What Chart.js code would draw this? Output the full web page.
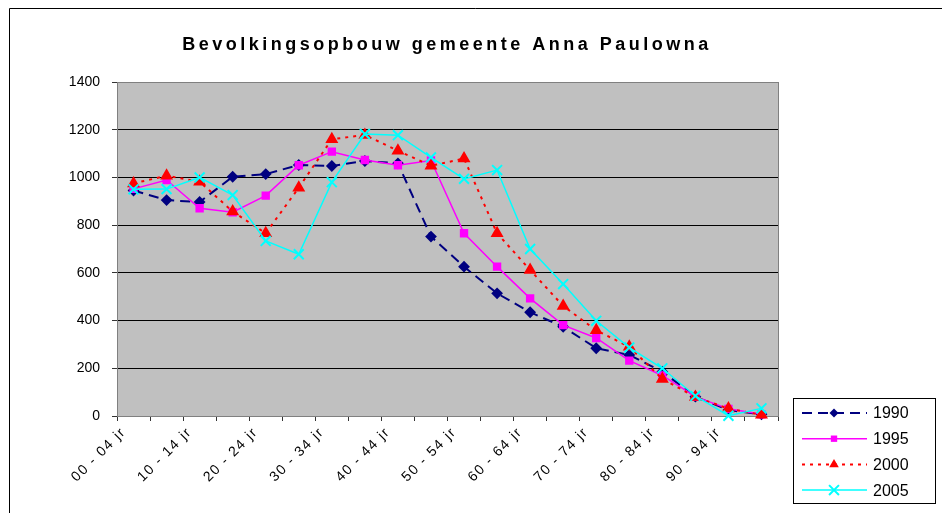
<!DOCTYPE html>
<html>
<head>
<meta charset="utf-8">
<script src="https://cdn.jsdelivr.net/npm/chart.js"></script>
<style>
    html, body { margin: 0; padding: 0; background: #fff; }
    canvas { display: block; }
</style>
</head>
<body>
<canvas id="chart" width="942" height="513"></canvas>
<script>
// ------------------------------
// Data
// ------------------------------
const ageGroups = [
    '00 - 04 jr', '05 - 09 jr', '10 - 14 jr', '15 - 19 jr', '20 - 24 jr',
    '25 - 29 jr', '30 - 34 jr', '35 - 39 jr', '40 - 44 jr', '45 - 49 jr',
    '50 - 54 jr', '55 - 59 jr', '60 - 64 jr', '65 - 69 jr', '70 - 74 jr',
    '75 - 79 jr', '80 - 84 jr', '85 - 89 jr', '90 - 94 jr', '95 - 99 jr'
];
const pop1990 = [945, 905, 897, 1003, 1014, 1052, 1048, 1069, 1059, 752, 626, 514, 435, 374, 284, 256, 186, 81, 25, 7];
const pop1995 = [952, 989, 871, 854, 924, 1051, 1108, 1073, 1051, 1071, 766, 626, 493, 381, 327, 232, 170, 81, 30, 7];
const pop2000 = [975, 1007, 982, 857, 766, 957, 1160, 1178, 1112, 1049, 1079, 766, 612, 461, 359, 290, 155, 80, 31, 5];
const pop2005 = [950, 951, 1000, 926, 734, 678, 980, 1182, 1177, 1084, 994, 1031, 700, 553, 399, 287, 200, 84, 1, 32];
const yTicks = [0, 200, 400, 600, 800, 1000, 1200, 1400];
const chartTitle = 'Bevolkingsopbouw gemeente Anna Paulowna';

const FONT = 'Arial, "Liberation Sans", sans-serif';

// ------------------------------
// Small marker painter used by the legend
// ------------------------------
function paintMarker(ctx, ds, x, y) {
    const r = ds.pointRadius;
    ctx.save();
    ctx.fillStyle = ds.pointBackgroundColor;
    ctx.strokeStyle = ds.pointBorderColor;
    ctx.lineWidth = ds.pointBorderWidth;
    ctx.setLineDash([]);
    ctx.beginPath();
    if (ds.pointStyle === 'rectRot') {
        ctx.moveTo(x, y - r); ctx.lineTo(x + r, y); ctx.lineTo(x, y + r); ctx.lineTo(x - r, y);
        ctx.closePath(); ctx.fill();
    } else if (ds.pointStyle === 'rect') {
        const s = r * Math.SQRT1_2;
        ctx.rect(x - s, y - s, 2 * s, 2 * s); ctx.fill();
    } else if (ds.pointStyle === 'triangle') {
        ctx.moveTo(x, y - r); ctx.lineTo(x + r * 0.87, y + r * 0.5); ctx.lineTo(x - r * 0.87, y + r * 0.5);
        ctx.closePath(); ctx.fill();
    } else {
        const s = r * Math.SQRT1_2;
        ctx.moveTo(x - s, y - s); ctx.lineTo(x + s, y + s);
        ctx.moveTo(x + s, y - s); ctx.lineTo(x - s, y + s);
        ctx.stroke();
    }
    ctx.restore();
}

// ------------------------------
// Plugin: outer frame, grey plot area, title, boxed legend
// ------------------------------
const excelLook = {
    id: 'excelLook',
    beforeDraw(chart) {
        const { ctx, chartArea: a } = chart;
        ctx.letterSpacing = '0px';
        ctx.save();
        ctx.fillStyle = '#c0c0c0';
        ctx.fillRect(a.left, a.top, a.right - a.left, a.bottom - a.top);
        ctx.restore();
    },
    beforeDatasetsDraw(chart) {
        const { ctx, chartArea: a } = chart;
        ctx.save();
        ctx.strokeStyle = '#808080';
        ctx.lineWidth = 1;
        ctx.strokeRect(Math.round(a.left) + 0.5, Math.round(a.top) + 0.5, a.right - a.left, a.bottom - a.top);
        ctx.restore();
    },
    afterDatasetsDraw(chart) {
        // the x labels are drawn right after this (z: 1), a bit wider spaced
        chart.ctx.letterSpacing = '1.5px';
    },
    afterDraw(chart) {
        const ctx = chart.ctx;
        ctx.letterSpacing = '0px';
        ctx.save();

        // outer chart frame
        ctx.strokeStyle = '#000';
        ctx.lineWidth = 1;
        ctx.beginPath();
        ctx.moveTo(9.5, 513);
        ctx.lineTo(9.5, 8.5);
        ctx.lineTo(942, 8.5);
        ctx.stroke();

        // title
        ctx.fillStyle = '#000';
        ctx.font = 'bold 18px ' + FONT;
        ctx.letterSpacing = '3.5px';
        ctx.textAlign = 'center';
        ctx.textBaseline = 'middle';
        ctx.fillText(chartTitle, 447, 45);
        ctx.letterSpacing = '0px';

        // legend
        ctx.fillStyle = '#fff';
        ctx.fillRect(793.5, 398.5, 142, 105);
        ctx.strokeStyle = '#000';
        ctx.strokeRect(793.5, 398.5, 142, 105);
        chart.data.datasets.forEach((ds, i) => {
            const y = 413 + i * 25.7;
            ctx.save();
            ctx.strokeStyle = ds.borderColor;
            ctx.lineWidth = ds.borderWidth;
            ctx.setLineDash(ds.borderDash || []);
            ctx.beginPath();
            ctx.moveTo(802, y);
            ctx.lineTo(867, y);
            ctx.stroke();
            ctx.restore();
            paintMarker(ctx, ds, 834, y);
            ctx.fillStyle = '#000';
            ctx.font = '16px ' + FONT;
            ctx.textAlign = 'left';
            ctx.textBaseline = 'middle';
            ctx.fillText(ds.label, 873, y + 1);
        });
        ctx.restore();
    }
};

// ------------------------------
// Build the chart
// ------------------------------
const series = [
    { label: '1990', data: pop1990, color: '#000080', dash: [10, 6], style: 'rectRot', radius: 4.5, width: 2, order: 3 },
    { label: '1995', data: pop1995, color: '#ff00ff', dash: [], style: 'rect', radius: 4.5, width: 1.5, order: 2 },
    { label: '2000', data: pop2000, color: '#ff0000', dash: [3, 5], style: 'triangle', radius: 5.5, width: 2, order: 1 },
    { label: '2005', data: pop2005, color: '#00ffff', dash: [], style: 'crossRot', radius: 7, width: 1.5, order: 0 }
];

new Chart(document.getElementById('chart').getContext('2d'), {
    type: 'line',
    data: {
        labels: ageGroups,
        datasets: series.map(s => ({
            label: s.label,
            data: s.data,
            borderColor: s.color,
            backgroundColor: s.color,
            borderWidth: s.width,
            borderDash: s.dash,
            pointStyle: s.style,
            pointRadius: s.radius,
            pointBackgroundColor: s.color,
            pointBorderColor: s.color,
            pointBorderWidth: 2,
            fill: false,
            tension: 0,
            clip: false,
            order: s.order
        }))
    },
    options: {
        responsive: false,
        animation: false,
        events: [],
        layout: { padding: { top: 82, left: 0, right: 164, bottom: 0 } },
        plugins: {
            legend: { display: false },
            title: { display: false },
            tooltip: { enabled: false }
        },
        scales: {
            x: {
                offset: true,
                grid: { offset: true, drawOnChartArea: false, drawTicks: true, tickLength: 5, color: '#333' },
                border: { display: true, color: '#333', width: 1 },
                ticks: {
                    z: 1,
                    autoSkip: false,
                    maxRotation: 45,
                    minRotation: 45,
                    color: '#000',
                    padding: 3,
                    labelOffset: -10,
                    font: { family: FONT, size: 14 },
                    callback: (v, i) => (i % 2 === 0 ? ageGroups[i] : '')
                },
                afterFit: s => { s.height = 97; }
            },
            y: {
                min: 0,
                max: 1400,
                afterBuildTicks: s => { s.ticks = yTicks.map(v => ({ value: v })); },
                grid: {
                    color: c => (c.tick && c.tick.value === 1400 ? '#808080' : '#000'),
                    tickColor: '#333',
                    tickLength: 5
                },
                border: { color: '#333' },
                ticks: {
                    color: '#000',
                    padding: 12,
                    font: { family: FONT, size: 14 },
                    callback: v => String(v)
                },
                afterFit: s => { s.width = 117; }
            }
        }
    },
    plugins: [excelLook]
});
</script>
</body>
</html>
